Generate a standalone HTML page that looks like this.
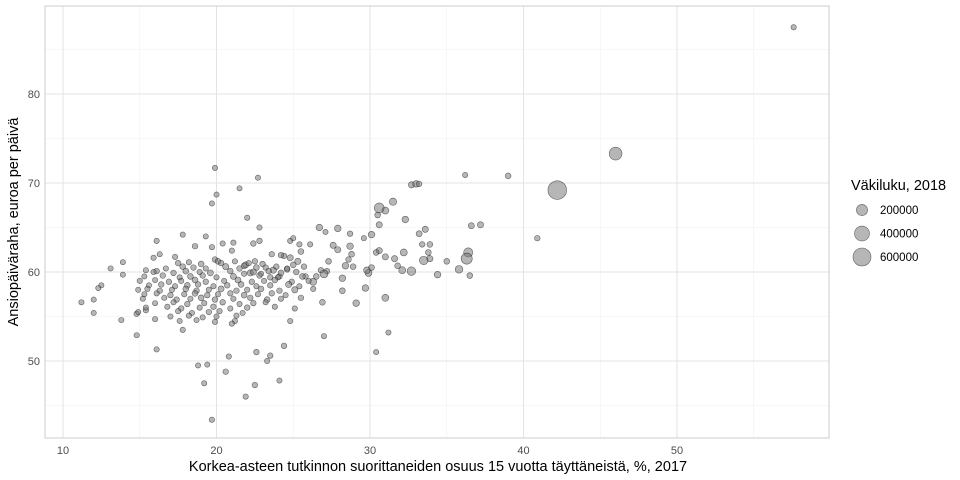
<!DOCTYPE html>
<html><head><meta charset="utf-8"><style>
body{margin:0;background:#fff;}
svg{font-family:"Liberation Sans",sans-serif;display:block}
</style></head><body>
<svg id="chart" width="960" height="480">
<rect x="0" y="0" width="960" height="480" fill="#fff"/>
<g id="grid"></g>
<g id="points"></g>
<rect x="45" y="6" width="784" height="432" fill="none" stroke="#cccccc" stroke-width="1"/>
<g id="axes"></g>
<text x="438" y="471" font-size="14.5" text-anchor="middle" fill="#000">Korkea-asteen tutkinnon suorittaneiden osuus 15 vuotta täyttäneistä, %, 2017</text>
<text transform="translate(18,222) rotate(-90)" font-size="14.5" text-anchor="middle" fill="#000">Ansiopäiväraha, euroa per päivä</text>
<g id="legend">
<text x="851" y="190" font-size="14.5" fill="#000">Väkiluku, 2018</text>
</g>
</svg>
<script>
const xTicks=[10,20,30,40,50];
const yTicks=[50,60,70,80];
const legendPops=[200,400,600];
const legendLabels=["200000","400000","600000"];
const xValues=[
57.6,46.0,42.2,39.0,36.2,40.9,37.2,36.6,36.4,36.3,
36.5,35.8,35.0,34.4,33.9,33.5,33.8,33.6,33.4,33.9,
33.2,32.7,32.1,32.2,31.6,31.8,31.0,30.6,30.4,31.5,
31.0,30.6,30.5,30.6,32.3,32.7,33.0,33.2,30.1,29.9,
29.7,29.8,30.1,28.4,28.6,28.7,28.8,28.9,29.1,31.0,
28.2,28.2,27.9,27.3,27.6,27.2,27.0,26.8,26.3,26.9,
26.5,25.7,25.8,25.3,25.5,24.8,24.6,25.0,24.4,24.1,
23.7,23.5,23.2,22.9,22.5,22.2,21.8,19.7,20.8,21.9,
22.5,22.6,23.5,23.3,24.1,24.4,20.6,19.2,19.4,18.8,
16.1,14.8,27.0,30.4,31.2,17.8,24.8,21.2,21.0,16.0,
15.4,13.8,14.8,12.0,11.2,12.0,12.5,12.3,13.1,13.9,
13.9,15.4,16.1,15.9,16.1,16.3,17.3,17.8,19.3,19.7,
20.0,19.9,21.5,22.0,22.7,19.9,20.1,19.7,18.6,20.4,
21.1,21.0,22.4,22.8,22.8,23.6,24.2,24.8,25.0,25.4,
26.1,27.1,26.7,27.9,28.7,29.6,
17.5,18.2,19.0,20.3,21.2,21.9,22.1,23.0,16.7,17.8,
18.5,19.3,20.6,21.5,22.6,23.9,24.6,15.9,17.2,18.0,
18.9,19.6,20.9,21.8,22.4,23.4,24.2,25.2,15.3,16.5,
17.6,18.3,19.1,20.0,21.1,22.8,24.0,25.6,15.0,16.0,
16.9,17.7,18.6,19.3,20.5,21.4,22.3,23.1,23.8,24.9,
26.0,15.6,16.4,17.3,18.1,18.8,19.8,20.7,21.6,22.6,
23.5,24.7,25.4,14.9,15.5,16.3,17.1,18.0,18.7,19.5,
20.3,21.3,22.0,22.9,24.1,25.1,26.3,15.3,16.1,17.0,
17.9,18.6,19.4,20.1,20.9,21.8,22.7,23.6,24.5,15.2,
16.6,17.4,18.3,19.0,19.9,21.1,22.2,23.3,24.2,25.5,
16.0,17.2,18.1,19.2,20.4,21.5,22.4,23.2,15.4,16.8,
17.7,18.9,19.8,20.9,22.0,23.8,25.1,14.9,17.5,18.4,
19.5,20.2,21.7,17.0,18.2,19.1,20.0,21.3,17.6,18.7,
19.9];
const yValues=[
87.5,73.3,69.2,70.8,70.9,63.8,65.3,65.2,62.2,61.5,
59.6,60.3,61.2,59.7,61.5,61.3,62.2,64.8,63.1,63.1,
64.3,60.1,60.2,62.2,61.5,60.7,61.7,62.4,62.2,67.9,
66.9,65.3,66.4,67.2,65.9,69.8,69.9,69.9,64.2,59.9,
58.2,60.2,60.5,60.7,61.4,62.9,62.0,60.6,56.5,57.1,
59.3,57.9,62.5,61.2,63.0,60.1,59.8,60.2,58.9,56.6,
59.5,60.6,59.5,61.2,62.3,61.6,60.3,60.8,61.8,59.5,
60.2,59.4,60.5,59.8,61.2,59.9,60.7,43.4,50.5,46.0,
47.3,51.0,50.6,50.0,47.8,51.7,48.8,47.5,49.6,49.5,
51.3,52.9,52.8,51.0,53.2,53.5,54.5,54.5,54.2,54.7,
55.7,54.6,55.3,55.4,56.6,56.9,58.5,58.2,60.4,59.7,
61.1,60.2,60.1,61.6,63.5,62.0,61.7,64.2,64.0,67.7,
68.7,71.7,69.4,66.1,70.6,61.4,61.2,62.8,62.9,63.2,
63.3,62.4,63.2,63.5,65.0,62.0,61.9,63.5,63.8,63.1,
63.1,64.5,65.0,64.9,64.3,63.8,
61.0,61.1,60.9,61.0,61.2,60.8,61.0,60.9,60.4,60.6,
60.5,60.4,60.6,60.4,60.5,60.6,60.4,60.0,59.9,60.1,
60.0,59.9,60.1,59.8,60.0,60.1,59.9,60.0,59.5,59.6,
59.4,59.5,59.6,59.4,59.5,59.6,59.4,59.5,59.0,59.1,
58.9,59.0,59.1,58.9,59.0,59.1,58.9,59.0,59.1,58.9,
59.0,58.5,58.6,58.4,58.5,58.6,58.4,58.5,58.6,58.4,
58.5,58.6,58.4,58.0,58.1,57.9,58.0,58.1,57.9,58.0,
58.1,57.9,58.0,58.1,57.9,58.0,58.1,57.5,57.6,57.4,
57.5,57.6,57.4,57.5,57.6,57.4,57.5,57.6,57.4,57.0,
57.1,56.9,57.0,57.1,56.9,57.0,57.1,56.9,57.0,57.1,
56.5,56.6,56.4,56.5,56.6,56.4,56.5,56.6,56.0,56.1,
55.9,56.0,56.1,55.9,56.0,56.1,55.9,55.5,55.6,55.4,
55.5,55.6,55.4,55.0,55.1,54.9,55.0,55.1,54.5,54.6,
54.4];
const popValues=[
10,280,650,20,10,15,30,25,120,200,
20,70,20,40,30,100,20,30,15,20,
25,100,50,50,30,20,30,30,20,60,
50,30,20,150,40,30,40,15,40,50,
40,40,20,40,15,40,20,20,40,50,
40,20,30,20,30,15,80,15,50,20,
20,15,15,30,20,30,20,20,15,15,
30,15,15,10,15,30,20,10,10,10,
15,15,15,10,8,15,15,8,8,8,
10,10,10,8,8,10,10,10,10,10,
10,10,15,8,8,8,8,8,10,8,
8,8,15,10,10,8,10,8,8,8,
8,8,8,10,8,15,20,10,15,10,
10,10,15,15,10,15,15,10,8,10,
10,8,40,40,15,10,
15,10,20,15,10,25,10,15,10,20,
15,10,30,15,20,15,10,10,15,20,
10,25,15,10,30,15,20,15,8,15,
10,20,15,10,25,15,10,20,10,8,
15,10,20,15,10,25,15,10,20,15,
10,8,15,10,20,15,10,15,20,10,
15,30,10,8,10,15,10,20,15,10,
25,15,10,20,15,30,10,8,10,15,
10,20,15,10,15,20,10,15,10,8,
10,15,10,20,15,10,15,20,10,15,
8,10,15,10,15,10,15,10,8,10,
15,10,15,10,15,10,10,8,10,10,
15,10,10,8,10,10,10,10,8,10,
10];

const NS="http://www.w3.org/2000/svg";
const xs=v=>63+(v-10)*15.35;
const ys=v=>272-(v-60)*8.9;
const rs=p=>Math.sqrt(6+p*0.125);
function mk(tag,attrs,parent){const e=document.createElementNS(NS,tag);for(const k in attrs)e.setAttribute(k,attrs[k]);parent.appendChild(e);return e;}
const grid=document.getElementById('grid'),axes=document.getElementById('axes'),pts=document.getElementById('points'),leg=document.getElementById('legend');
// minor grid
for(let v=5;v<=60;v+=10){const x=xs(v);if(x<45||x>829)continue;
 const l=mk('line',{x1:x,x2:x,y1:6,y2:438,stroke:'#f0f0f0','stroke-width':0.6},grid);
 
 }
for(let v=45;v<=95;v+=10){const y=ys(v);if(y<6||y>438)continue;
 const l=mk('line',{x1:45,x2:829,y1:y,y2:y,stroke:'#f0f0f0','stroke-width':0.6},grid);
 
 }
xTicks.forEach(v=>{const x=xs(v);
 const l=mk('line',{x1:x,x2:x,y1:6,y2:438,stroke:'#e3e3e3','stroke-width':1},grid);
 
 
 const t=mk('text',{x:x,y:454,'font-size':11,'text-anchor':'middle',fill:'#4d4d4d'},axes);t.textContent=v;
 
 });
yTicks.forEach(v=>{const y=ys(v);
 const l=mk('line',{x1:45,x2:829,y1:y,y2:y,stroke:'#e3e3e3','stroke-width':1},grid);
 
 
 const t=mk('text',{x:40,y:y+4,'font-size':11,'text-anchor':'end',fill:'#4d4d4d'},axes);t.textContent=v;
 
 });
xValues.forEach((xv,i)=>{
 const c=mk('circle',{cx:xs(xv),cy:ys(yValues[i]),r:rs(popValues[i]),fill:'rgba(110,110,110,0.5)',stroke:'rgba(0,0,0,0.55)','stroke-width':0.6},pts);
 
 });
legendPops.forEach((p,i)=>{const y=210+i*23.5;
 const c=mk('circle',{cx:862,cy:y,r:rs(p),fill:'rgba(110,110,110,0.5)',stroke:'rgba(0,0,0,0.55)','stroke-width':0.6},leg);
 
 
 const t=mk('text',{x:880,y:y+4,'font-size':11.5,fill:'#000'},leg);t.textContent=legendLabels[i];
 
 });
</script>
</body></html>
